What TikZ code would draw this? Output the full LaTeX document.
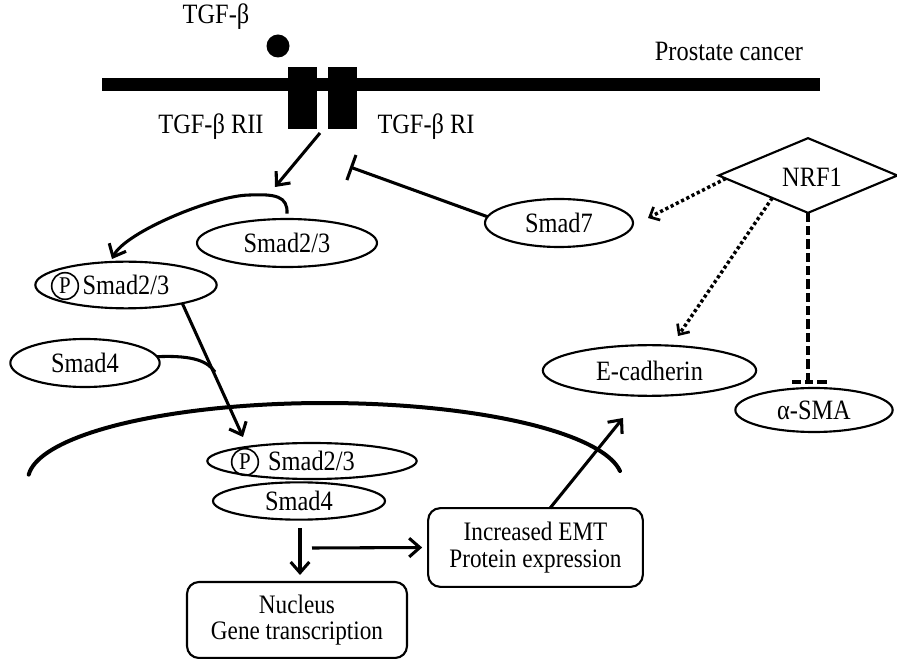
\documentclass[tikz,border=0pt]{standalone}
\usepackage{fontspec}
\setmainfont{Liberation Serif}[FakeStretch=0.87]
\usetikzlibrary{shapes.geometric,arrows.meta,calc}
\begin{document}
\begin{tikzpicture}[x=0.75pt,y=-0.75pt,
  every node/.style={font=\fontsize{21}{24}\selectfont, inner sep=0pt, outer sep=0pt},
  ell/.style={draw, ellipse, line width=1.6pt},
  cp/.style={draw, circle, line width=1.2pt, minimum size=20pt, font=\fontsize{18}{18}\selectfont},
  box/.style={draw, rounded corners=9pt, line width=1.6pt, align=center, font=\fontsize{20}{20}\selectfont},
  arr/.style={line width=2.3pt, -{Straight Barb[length=8pt,width=14pt,line width=2.3pt]}},
  plain/.style={line width=2.3pt},
  inh/.style={line width=2.3pt, -{Bar[width=20pt,line width=2.3pt]}},
  dotarr/.style={line width=2.6pt, dash pattern=on 2.4pt off 2.0pt, -{Straight Barb[length=6pt,width=11pt,line width=2pt]}},
  dashln/.style={line width=2.8pt, dash pattern=on 7pt off 3pt},
  memb/.style={fill=black, draw=none},
  nucarc/.style={line width=3pt, line cap=round}
]
\useasboundingbox (0,0) rectangle (897,659);

% membrane and receptors
\fill[memb] (102,78) rectangle (820,91);
\fill[memb] (288,67) rectangle (317,129);
\fill[memb] (328,67) rectangle (357,129);
\fill (278,46) circle[radius=11.5];

\node (ltgf) at (216,17) {TGF-β};
\node (lpc) at (729,51) {Prostate cancer};
\node (lrii) at (211,127) {TGF-β RII};
\node (lri) at (426,127) {TGF-β RI};

% cytoplasm nodes
\node[ell, minimum width=135pt, minimum height=36pt] (s23) at (287,243) {};
\node (s23t) at (287,243) {Smad2/3};
\node[ell, minimum width=136pt, minimum height=35pt] (ps23) at (126,285) {};
\node[cp] (p1) at (65,286) {P};
\node (ps23t) at (126,285) {Smad2/3};
\node[ell, minimum width=112pt, minimum height=36pt] (s4) at (85,363) {};
\node (s4t) at (85,363) {Smad4};
\node[ell, minimum width=111pt, minimum height=36pt] (s7) at (559,223) {};
\node (s7t) at (559,223) {Smad7};
\node[draw, diamond, line width=1.6pt, minimum width=134pt, minimum height=56pt] (nrf) at (808,175.5) {};
\node (nrft) at (812,177) {NRF1};
\node[ell, minimum width=160pt, minimum height=38pt] (ecad) at (649.5,370.5) {};
\node (ecadt) at (649.5,370.5) {E-cadherin};
\node[ell, minimum width=118pt, minimum height=33pt] (asma) at (814,410) {};
\node (asmat) at (814,410) {α-SMA};

% nucleus
\draw[nucarc] plot[domain=-176:-6.7, samples=80] ({325+297*cos(\x)},{480+77*sin(\x)});
\node[ell, minimum width=157pt, minimum height=27pt] (ps23n) at (312,461) {};
\node[cp] (p2) at (245,462) {P};
\node (ps23nt) at (311.5,461) {Smad2/3};
\node[ell, minimum width=129pt, minimum height=28pt] (s4n) at (299,501) {};
\node (s4nt) at (299,501) {Smad4};

\node[box, minimum width=165pt, minimum height=57pt] (nuc) at (297,620) {Nucleus\\Gene transcription};
\node[box, minimum width=161pt, minimum height=59pt] (emt) at (535.5,547.5) {Increased EMT\\Protein expression};

% coordinates for free ends
\coordinate (rS) at (320,133);
\coordinate (rT) at (275,187);
\coordinate (tI) at (350,167);
\coordinate (tN) at (243,437);
\coordinate (join) at (215,372);
\coordinate (t7) at (648,218);
\coordinate (tE) at (678,336);
\coordinate (barc) at (808,382);
\coordinate (dS) at (300,528);
\coordinate (dT) at (300,575);
\coordinate (rA) at (312,548);
\coordinate (tU) at (623,418);

% connectors
\draw[arr] (rS) -- (rT);
\draw[arr] ([yshift=4pt]s23.north) .. controls (288,196) and (275,194) .. (250,195)
   .. controls (215,195) and (125,232) .. (112,259);
\draw[inh] (s7.175) -- (tI);
\draw[arr] (ps23.-18) -- (tN);
\draw[plain] (s4.5) .. controls (195,355) and (208,362) .. (join);
\draw[dotarr] ($(nrf.west)!0.08!(nrf.south)$) -- (t7);
\draw[dotarr] ($(nrf.west)!0.6!(nrf.south)$) -- (tE);
\draw[dashln] (nrf.south) -- (barc);
\draw[line width=2.8pt, dash pattern=on 7pt off 3pt on 6pt off 3pt] ([xshift=-12pt]barc) -- ([xshift=14pt]barc);
\draw[arr] (dS) -- (dT);
\draw[arr] (rA) -- ([xshift=-4.5pt]emt.west);
\draw[arr] ([xshift=10.9pt]emt.north) -- (tU);
\end{tikzpicture}
\end{document}
